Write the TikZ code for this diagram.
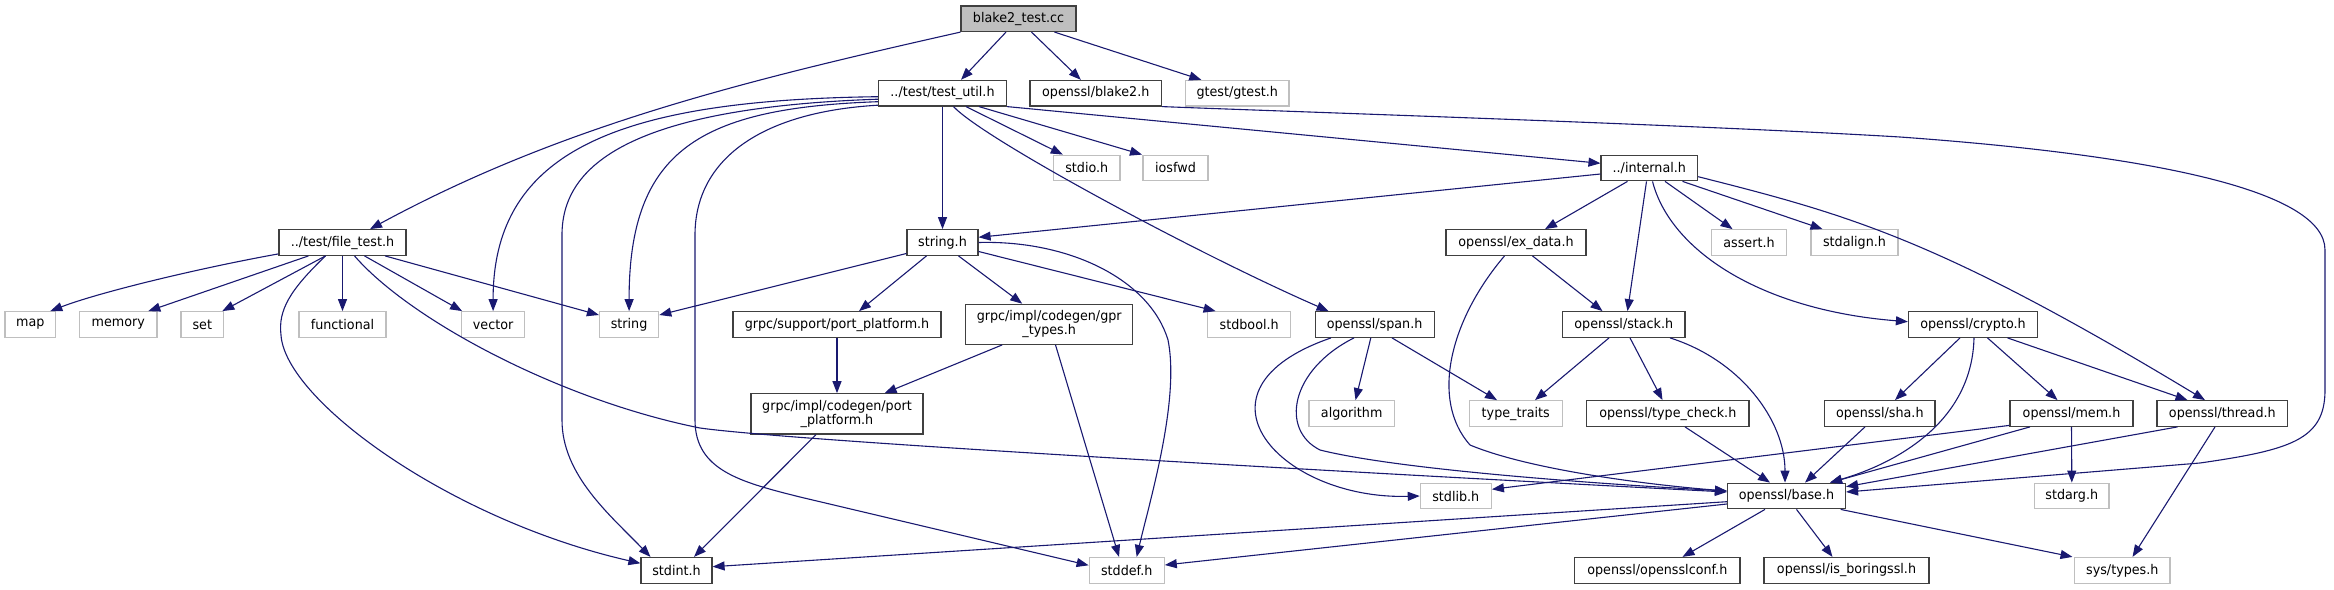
\documentclass[tikz,border=0pt]{standalone}
\usepackage{fontspec}
\setmainfont[FakeStretch=0.95]{DejaVu Sans}
\usetikzlibrary{calc,arrows.meta}
\definecolor{edgeblue}{HTML}{191970}
\definecolor{grayfill}{HTML}{BFBFBF}
\definecolor{extline}{HTML}{BFBFBF}
\definecolor{docline}{HTML}{404040}
\begin{document}
\begin{tikzpicture}[x=1pt,y=-1pt,
  box/.style={rectangle, inner sep=0pt, minimum height=25.6pt, font=\fontsize{13.4pt}{14pt}\selectfont, line width=1.2pt},
  doc/.style={box, draw=docline},
  ext/.style={box, draw=extline},
  dep/.style={draw=edgeblue, line width=1.1pt, -{Triangle[length=12pt,width=9pt]}}]
\useasboundingbox (0,0) rectangle (2334,589);
% row 1
\node[doc, fill=grayfill, minimum width=115pt] (b2t) at (1018.5,18.7) {blake2\_test.cc};
% row 2
\node[doc, minimum width=128pt] (tu) at (942.5,93.2) {../test/test\_util.h};
\node[doc, minimum width=131.6pt] (bl) at (1095.8,93.2) {openssl/blake2.h};
\node[ext, minimum width=103.4pt] (gt) at (1237.3,93.2) {gtest/gtest.h};
% row 3
\node[ext, minimum width=66.5pt] (io) at (1086.8,168) {stdio.h};
\node[ext, minimum width=65pt] (iosfwd) at (1175.5,168) {iosfwd};
\node[doc, minimum width=96.5pt] (in) at (1649.3,168) {../internal.h};
% row 4
\node[doc, minimum width=127pt] (ft) at (342.5,242.5) {../test/file\_test.h};
\node[doc, minimum width=71pt] (sh) at (942.5,242.5) {string.h};
\node[doc, minimum width=140pt] (ex) at (1516,242.5) {openssl/ex\_data.h};
\node[ext, minimum width=75pt] (as) at (1749,242.5) {assert.h};
\node[ext, minimum width=87pt] (sa) at (1854.5,242.5) {stdalign.h};
% row 5
\node[ext, minimum width=50.6pt] (map) at (30.3,324.5) {map};
\node[ext, minimum width=77.5pt] (memory) at (118.3,324.5) {memory};
\node[ext, minimum width=42.5pt] (set) at (202.3,324.5) {set};
\node[ext, minimum width=87pt] (functional) at (342.5,324.5) {functional};
\node[ext, minimum width=62.8pt] (vector) at (493.1,324.5) {vector};
\node[ext, minimum width=59.2pt] (string) at (629.1,324.5) {string};
\node[doc, minimum width=208pt] (spp) at (837,324.5) {grpc/support/port\_platform.h};
\node[doc, minimum width=167pt, minimum height=40pt, align=center] (gpr) at (1049.2,324.3) {grpc/impl/codegen/gpr\\\_types.h};
\node[ext, minimum width=83pt] (sb) at (1249.2,324.5) {stdbool.h};
\node[doc, minimum width=119pt] (sp) at (1374.6,324.5) {openssl/span.h};
\node[doc, minimum width=122.5pt] (st) at (1623.8,324.5) {openssl/stack.h};
\node[doc, minimum width=129pt] (cr) at (1973,324.5) {openssl/crypto.h};
% row 6
\node[doc, minimum width=172pt, minimum height=40.3pt, align=center] (cpp) at (837,413.9) {grpc/impl/codegen/port\\\_platform.h};
\node[ext, minimum width=85.3pt] (alg) at (1351.7,413.5) {algorithm};
\node[ext, minimum width=92.9pt] (tt) at (1515.7,413.5) {type\_traits};
\node[doc, minimum width=162.5pt] (tc) at (1667.8,413.5) {openssl/type\_check.h};
\node[doc, minimum width=110.5pt] (sha) at (1879.8,413.5) {openssl/sha.h};
\node[doc, minimum width=123pt] (mem) at (2071.5,413.5) {openssl/mem.h};
\node[doc, minimum width=130.5pt] (th) at (2222.3,413.5) {openssl/thread.h};
% row 7
\node[ext, minimum width=71pt] (sl) at (1455.8,496) {stdlib.h};
\node[doc, minimum width=118pt] (base) at (1786.5,496) {openssl/base.h};
\node[ext, minimum width=74.5pt] (sa2) at (2071.8,496) {stdarg.h};
% row 8
\node[doc, minimum width=71pt] (si) at (676.5,570.3) {stdint.h};
\node[ext, minimum width=75pt] (sd) at (1126.7,570.3) {stddef.h};
\node[doc, minimum width=165.5pt] (oc) at (1657.3,570.3) {openssl/opensslconf.h};
\node[doc, minimum width=165pt] (ib) at (1846.5,570.3) {openssl/is\_boringssl.h};
\node[ext, minimum width=95.5pt] (ty) at (2122.3,570.3) {sys/types.h};

% blake2_test.cc
\draw[dep] (b2t.south west) .. controls (748,80) and (562,125) .. ($(ft.north)+(27.5,0)$);
\draw[dep] ($(b2t.south)+(-12.5,0)$) -- ($(tu.north)+(18.5,0)$);
\draw[dep] ($(b2t.south)+(13,0)$) -- ($(bl.north)+(-15,0)$);
\draw[dep] ($(b2t.south)+(36,0)$) -- ($(gt.north)+(-36,0)$);
% test_util.h
\draw[dep] (tu.south) -- (sh.north);
\draw[dep] ($(tu.south)+(23.5,0)$) -- ($(io.north)+(-24,0)$);
\draw[dep] ($(tu.south)+(36.5,0)$) -- ($(iosfwd.north)+(-33.5,0)$);
\draw[dep] (tu.south east) -- ($(in.west)+(0,-4.7)$);
\draw[dep] ($(tu.south)+(11,0)$) .. controls (985,140) and (1200,255) .. ($(sp.north)+(-46,0)$);
\draw[dep] ($(tu.west)+(0,3.5)$) .. controls (620,100) and (493,150) .. (vector.north);
\draw[dep] ($(tu.west)+(0,6)$) .. controls (620,108) and (562,170) .. (562,235) -- (562,420) .. controls (562,475) and (610,515) .. ($(si.north)+(-26,0)$);
\draw[dep] ($(tu.west)+(0,8.5)$) .. controls (700,108) and (629,150) .. (string.north);
\draw[dep] ($(tu.west)+(0,12)$) .. controls (760,112) and (695,160) .. (695,235) -- (695,420) .. controls (695,470) and (740,482) .. (800,497) -- ($(sd.west)+(0,-5)$);
% file_test.h
\draw[dep] ($(ft.south west)+(0,-2)$) .. controls (200,268) and (100,292) .. ($(map.north)+(20,0)$);
\draw[dep] ($(ft.south)+(-34,0)$) -- ($(memory.north)+(30,0)$);
\draw[dep] ($(ft.south)+(-17,0)$) -- ($(set.north)+(20,0)$);
\draw[dep] ($(ft.south)+(-17,0)$) .. controls (290,290) and (278,310) .. (281,335) .. controls (285,400) and (450,520) .. ($(si.west)+(0,-7)$);
\draw[dep] (ft.south) -- (functional.north);
\draw[dep] ($(ft.south)+(12,0)$) .. controls (410,320) and (560,400) .. (700,428) .. controls (800,442) and (1400,475) .. ($(base.west)+(0,-4)$);
\draw[dep] ($(ft.south)+(22,0)$) -- ($(vector.north)+(-31,0)$);
\draw[dep] ($(ft.south)+(42.5,0)$) -- ($(string.west)+(0,-9.5)$);
% string.h
\draw[dep] ($(sh.west)+(0,11)$) -- ($(string.east)+(0,-9.5)$);
\draw[dep] ($(sh.south)+(-16,0)$) -- ($(spp.north)+(22,0)$);
\draw[dep] ($(sh.south)+(16,0)$) -- ($(gpr.north)+(-27,0)$);
\draw[dep] ($(sh.east)+(0,9)$) -- ($(sb.north west)+(8.5,0)$);
\draw[dep] (sh.east) .. controls (1070,240) and (1150,280) .. (1168,340) .. controls (1180,400) and (1150,500) .. ($(sd.north)+(10,0)$);
% grpc
\draw[dep] (spp.south) -- (cpp.north);
\draw[dep] ($(gpr.south)+(-47,0)$) -- ($(cpp.north)+(47.6,0)$);
\draw[dep] ($(gpr.south)+(6.3,0)$) -- ($(sd.north)+(-7.7,0)$);
\draw[dep] ($(cpp.south)+(-21,0)$) -- ($(si.north)+(17.5,0)$);
% span.h
\draw[dep] ($(sp.south)+(-43.6,0)$) .. controls (1180,390) and (1280,500) .. (sl.west);
\draw[dep] ($(sp.south)+(-20.6,0)$) .. controls (1290,370) and (1280,430) .. (1320,450) .. controls (1400,470) and (1600,484) .. ($(base.west)+(0,-5)$);
\draw[dep] ($(sp.south)+(-3.8,0)$) -- ($(alg.north)+(3.8,0)$);
\draw[dep] ($(sp.south)+(17.4,0)$) -- ($(tt.north)+(-18.7,0)$);
% ex_data.h
\draw[dep] ($(ex.south)+(16.5,0)$) -- ($(st.north)+(-21.3,0)$);
\draw[dep] ($(ex.south)+(-11.5,0)$) .. controls (1450,320) and (1430,400) .. (1470,445) .. controls (1530,470) and (1650,485) .. ($(base.west)+(0,-5)$);
% internal.h
\draw[dep] ($(in.west)+(0,6)$) -- ($(sh.east)+(0,-5.2)$);
\draw[dep] ($(in.south)+(-21.8,0)$) -- ($(ex.north)+(29,0)$);
\draw[dep] ($(in.south)+(-2.8,0)$) -- ($(st.north)+(3.7,0)$);
\draw[dep] ($(in.south)+(3.2,0)$) .. controls (1670,250) and (1760,310) .. ($(cr.west)+(0,-2.8)$);
\draw[dep] ($(in.south)+(15.7,0)$) -- ($(as.north)+(-16.5,0)$);
\draw[dep] ($(in.south)+(33.2,0)$) -- ($(sa.north)+(-32,0)$);
\draw[dep] ($(in.east)+(0,8.7)$) .. controls (1850,215) and (1940,240) .. ($(th.north)+(-17.3,0)$);
% blake2.h
\draw[dep] (bl.south east) .. controls (1300,112) and (1700,125) .. (1900,137) .. controls (2150,155) and (2325,190) .. (2325,250) -- (2325,390) .. controls (2325,440) and (2290,450) .. (2200,463) -- ($(base.east)+(0,-4)$);
% stack.h
\draw[dep] ($(st.south)+(-14.8,0)$) -- ($(tt.north)+(19.3,0)$);
\draw[dep] ($(st.south)+(6.2,0)$) -- ($(tc.north)+(-5.3,0)$);
\draw[dep] ($(st.south)+(46.2,0)$) .. controls (1740,360) and (1785,420) .. ($(base.north)+(-1.5,0)$);
% type_check.h, sha.h
\draw[dep] ($(tc.south)+(17.2,0)$) -- ($(base.north)+(-16.5,0)$);
\draw[dep] ($(sha.south)+(-14.8,0)$) -- ($(base.north)+(18.5,0)$);
% crypto.h
\draw[dep] ($(cr.south)+(-13,0)$) -- ($(sha.north)+(15.2,0)$);
\draw[dep] ($(cr.south)+(1,0)$) .. controls (1972,420) and (1900,462) .. ($(base.north)+(43.5,0)$);
\draw[dep] ($(cr.south)+(14.5,0)$) -- ($(mem.north)+(-14,0)$);
\draw[dep] ($(cr.south)+(34.5,0)$) -- ($(th.north)+(-34.8,0)$);
% mem.h
\draw[dep] ($(mem.south west)+(0,-1.5)$) -- ($(sl.east)+(0,-6.7)$);
\draw[dep] ($(mem.south)+(-41.5,0)$) -- ($(base.north)+(43.5,0)$);
\draw[dep] (mem.south) -- (sa2.north);
% thread.h
\draw[dep] ($(th.south)+(-44.8,0)$) -- ($(base.east)+(0,-9.3)$);
\draw[dep] ($(th.south)+(-7.3,0)$) -- ($(ty.north)+(10.2,0)$);
% base.h
\draw[dep] ($(base.west)+(0,5.7)$) -- ($(si.east)+(0,-3.6)$);
\draw[dep] ($(base.west)+(0,8)$) -- ($(sd.east)+(0,-5.3)$);
\draw[dep] ($(base.south)+(-21.5,0)$) -- ($(oc.north)+(25.2,0)$);
\draw[dep] ($(base.south)+(10,0)$) -- ($(ib.north)+(-14,0)$);
\draw[dep] ($(base.south east)+(-5.5,0)$) -- ($(ty.north)+(-49.8,0)$);
\end{tikzpicture}
\end{document}
